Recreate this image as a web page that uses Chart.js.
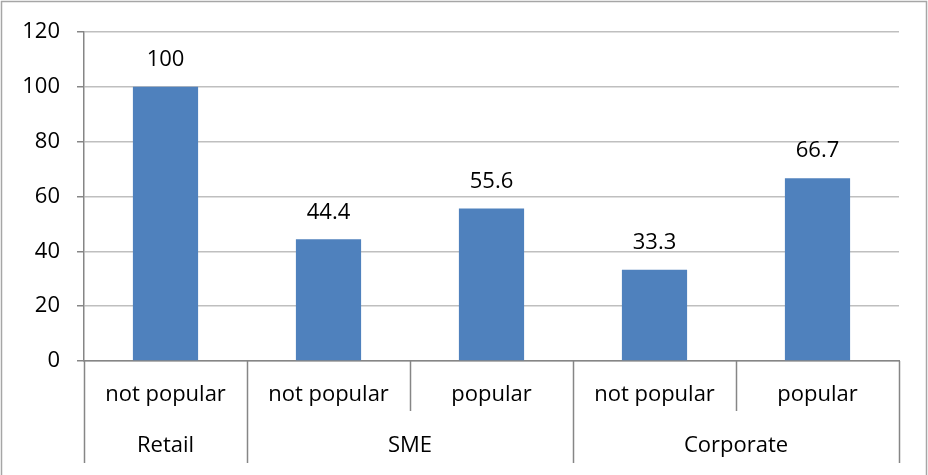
<!DOCTYPE html>
<html>
<head>
<meta charset="utf-8">
<script src="https://cdn.jsdelivr.net/npm/chart.js@4"></script>
<style>
  html, body { margin: 0; padding: 0; background: #fff; }
  #wrap { width: 928px; height: 475px; position: relative; }
</style>
</head>
<body>
<div id="wrap"><canvas id="c" width="928" height="475"></canvas></div>
<script>
// Share of answers per customer segment
const groups = ['Retail', 'SME', 'Corporate'];
const groupSpans = [1, 2, 2];
const subLabels = ['not popular', 'not popular', 'popular', 'not popular', 'popular'];
const values = [100, 44.4, 55.6, 33.3, 66.7];
const yTicks = [0, 20, 40, 60, 80, 100, 120];

const FONT = "'Open Sans', 'Liberation Sans', sans-serif";
const FONT_SIZE = 22;
const AXIS_COLOR = '#868686';
const GRID_COLOR = '#bfbfbf';

// Value labels above each bar
const valueLabels = {
  id: 'valueLabels',
  afterDatasetsDraw(chart) {
    const ctx = chart.ctx;
    const meta = chart.getDatasetMeta(0);
    ctx.save();
    ctx.font = `${FONT_SIZE}px ${FONT}`;
    ctx.fillStyle = '#000';
    ctx.textAlign = 'center';
    ctx.textBaseline = 'middle';
    meta.data.forEach((bar, i) => {
      ctx.fillText(String(values[i]), bar.x, bar.y - 27);
    });
    ctx.restore();
  }
};

// Two-level category axis: sub labels, group labels and separator lines
const groupedAxis = {
  id: 'groupedAxis',
  afterDraw(chart) {
    const ctx = chart.ctx;
    const x = chart.scales.x;
    const area = chart.chartArea;
    const n = subLabels.length;
    const step = (area.right - area.left) / n;
    const row1 = area.bottom + 34;
    const row2 = area.bottom + 85;
    const subEnd = area.bottom + 50;
    const groupEnd = area.bottom + 102;

    ctx.save();
    ctx.strokeStyle = AXIS_COLOR;
    ctx.lineWidth = 1.5;
    // boundaries
    const groupBounds = new Set([0]);
    let acc = 0;
    groupSpans.forEach(s => { acc += s; groupBounds.add(acc); });
    for (let i = 0; i <= n; i++) {
      const px = Math.round(area.left + i * step) + 0.5;
      ctx.beginPath();
      ctx.moveTo(px, area.bottom);
      ctx.lineTo(px, groupBounds.has(i) ? groupEnd : subEnd);
      ctx.stroke();
    }
    // labels
    ctx.font = `${FONT_SIZE}px ${FONT}`;
    ctx.fillStyle = '#000';
    ctx.textAlign = 'center';
    ctx.textBaseline = 'middle';
    subLabels.forEach((lab, i) => {
      ctx.fillText(lab, x.getPixelForValue(i), row1);
    });
    let start = 0;
    groups.forEach((g, gi) => {
      const end = start + groupSpans[gi];
      const cx = area.left + ((start + end) / 2) * step;
      ctx.fillText(g, cx, row2);
      start = end;
    });
    ctx.restore();
  }
};

// Frame on the top, left and right of the chart
const frame = {
  id: 'frame',
  beforeDraw(chart) {
    const ctx = chart.ctx;
    ctx.save();
    ctx.fillStyle = '#fff';
    ctx.fillRect(0, 0, chart.width, chart.height);
    ctx.strokeStyle = '#a6a6a6';
    ctx.lineWidth = 1.5;
    ctx.beginPath();
    ctx.moveTo(1.5, chart.height);
    ctx.lineTo(1.5, 1.5);
    ctx.lineTo(chart.width - 1.5, 1.5);
    ctx.lineTo(chart.width - 1.5, chart.height);
    ctx.stroke();
    ctx.restore();
  }
};

new Chart(document.getElementById('c'), {
  type: 'bar',
  data: {
    labels: subLabels,
    datasets: [{
      data: values,
      backgroundColor: '#4f81bd',
      categoryPercentage: 1,
      barPercentage: 0.4
    }]
  },
  options: {
    responsive: false,
    animation: false,
    devicePixelRatio: 1,
    layout: { padding: { top: 32, right: 29, left: 0, bottom: 0 } },
    plugins: { legend: { display: false }, tooltip: { enabled: false } },
    scales: {
      x: {
        grid: { display: false },
        border: { display: true, color: AXIS_COLOR, width: 1.5 },
        ticks: { display: false },
        afterFit(scale) { scale.height = 114; }
      },
      y: {
        min: 0,
        max: 120,
        afterBuildTicks(scale) { scale.ticks = yTicks.map(v => ({ value: v })); },
        grid: {
          color: GRID_COLOR,
          lineWidth: 1.5,
          drawTicks: true,
          tickLength: 7,
          tickColor: AXIS_COLOR
        },
        border: { display: true, color: AXIS_COLOR, width: 1.5 },
        ticks: {
          padding: 17,
          color: '#000',
          font: { family: FONT, size: FONT_SIZE }
        },
        afterFit(scale) { scale.width = 84; }
      }
    }
  },
  plugins: [frame, valueLabels, groupedAxis]
});
</script>
</body>
</html>
